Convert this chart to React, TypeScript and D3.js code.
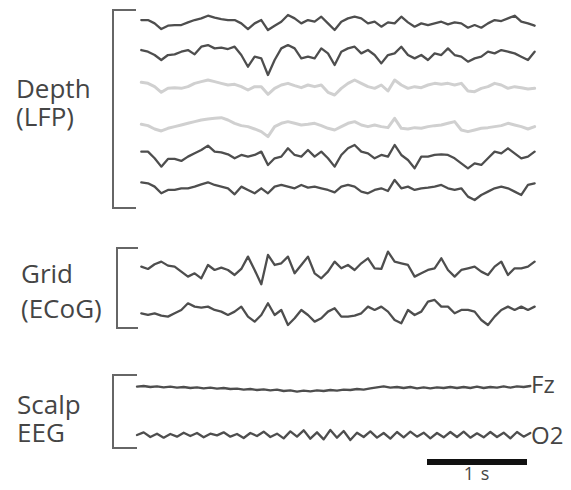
import React from "react";
import * as d3 from "d3";

// sampling: 15 samples per second, amplitudes in µV-like units
const SAMPLE_RATE = 15;

const depth1 = [5,5,-5,-22,-12,-10,-10,-2,5,10,18,12,8,5,5,-5,-22,-5,5,-25,-12,0,20,10,-5,5,0,15,-5,-25,
  0,10,15,10,-5,0,-15,-2,-5,15,-2,-15,-5,-10,-5,0,-8,-2,-5,-18,-10,-18,-5,5,2,10,18,0,-5,-12];
const depth2 = [5,0,-10,-25,-10,-8,0,5,-8,15,20,10,12,8,15,-10,-45,-15,-20,-70,-25,10,20,10,-20,-15,-20,10,-5,-40,
  0,10,15,-5,5,-10,-35,-10,-5,15,-10,-20,-10,-25,-5,-10,10,-10,-15,-30,-20,-15,0,-5,5,0,-5,-15,-25,0];
const depth3 = [8,5,-5,-22,-10,-8,-10,-5,5,10,15,10,5,0,2,-5,-15,-5,-5,-28,-10,0,5,-2,-8,0,-5,0,-22,-30,
  -10,5,15,5,-5,-10,0,-18,15,0,-10,-5,-8,0,5,2,5,0,5,-18,-20,-10,-5,5,0,-10,-5,-8,-12,-10];
const depth4 = [-3,-7,-17,-23,-15,-10,-5,0,5,10,13,15,17,10,0,-7,-10,-17,-25,-40,-10,0,5,0,-5,-3,0,-7,-15,-20,
  -10,0,5,-5,-10,-5,-10,-13,15,-15,-17,-13,-15,-10,-7,-5,0,5,-20,-25,-20,-15,-13,-10,-7,0,-5,-10,-17,-10];
const depth5 = [20,20,0,-25,-2,-2,-8,5,15,25,38,20,18,12,0,10,5,10,20,-20,0,5,30,10,5,25,5,20,0,-25,
  10,30,40,20,15,0,10,5,40,10,-5,-30,5,5,10,12,10,0,-15,-30,-15,-20,0,20,15,30,15,0,5,20];
const depth6 = [18,15,5,-15,-5,-5,0,0,5,12,18,10,5,0,-18,5,-5,-15,0,-15,5,10,5,0,10,2,5,0,-5,-12,
  5,10,5,-10,-15,-5,0,-8,25,0,5,-5,0,2,5,10,0,-5,0,-25,-35,-20,-10,0,5,0,-10,-20,10,15];

const grid1 = [5,-2,12,20,8,5,-10,-25,-15,-30,10,-5,2,-5,-20,-2,35,-5,-48,40,10,15,35,-15,10,35,-15,-30,-10,20,
  0,10,-5,15,30,0,-2,50,20,15,10,-25,-15,-5,0,30,-5,-25,-5,0,5,-10,-20,5,20,-20,0,0,5,20];
const grid2 = [0,-5,0,-7,-10,0,10,30,20,17,20,10,5,-5,5,20,-10,-25,-5,30,-5,10,-35,-15,10,-5,-25,-15,5,15,
  -10,-10,-7,0,20,10,20,5,-20,-30,10,-5,5,35,40,20,20,0,10,10,5,-20,-35,-10,10,20,10,20,10,20];

const scalpFz = [7,9,6,8,5,7,4,6,3,5,2,4,1,3,0,1,-2,0,-3,-1,-4,-2,-6,-4,-8,-5,-7,-4,-6,-3,
  -5,-2,-3,0,-2,2,5,8,4,6,3,6,2,5,2,5,3,6,3,6,3,7,3,6,4,8,4,8,6,9];
const scalpO2 = [0,8,-6,4,-8,3,-5,7,-3,6,-7,4,-1,8,-5,3,-9,6,-3,10,-6,4,-10,11,-5,14,-11,8,-13,15,
  -8,12,-15,7,-6,11,-8,6,-11,9,-7,10,-5,7,-10,6,-7,9,-6,10,-8,5,-7,9,-6,7,-10,9,-5,6];

const groupLabels = [["Depth", "(LFP)"], ["Grid", "(ECoG)"], ["Scalp", "EEG"]];
const channelLabels = ["Fz", "O2"];
const scaleBarLabel = "1 s";
const scaleBarSeconds = 1;

const W = 571, H = 490;
const DARK = "#4e4e4e";
const LIGHT = "#d0d0d0";
const TEXT = "#454545";
const FONT = "'Open Sans', 'DejaVu Sans', sans-serif";

type Trace = { values: number[]; base: number; x0: number; color: string; width: number };

const traces: Trace[] = [
  { values: depth1, base: 21.7, x0: 141.3, color: DARK, width: 2.3 },
  { values: depth2, base: 51.7, x0: 141.3, color: DARK, width: 2.3 },
  { values: depth3, base: 85, x0: 141.3, color: LIGHT, width: 3 },
  { values: depth4, base: 123.3, x0: 141.3, color: LIGHT, width: 3 },
  { values: depth5, base: 158.3, x0: 141.3, color: DARK, width: 2.3 },
  { values: depth6, base: 188.3, x0: 141.3, color: DARK, width: 2.3 },
  { values: grid1, base: 268.3, x0: 141.3, color: DARK, width: 2.3 },
  { values: grid2, base: 313.3, x0: 141.3, color: DARK, width: 2.3 },
  { values: scalpFz, base: 389, x0: 137, color: DARK, width: 2.3 },
  { values: scalpO2, base: 435, x0: 137, color: DARK, width: 2.3 },
];

const pxPerSecond = 100;
const ampScale = d3.scaleLinear().domain([-100, 100]).range([100 / 3, -100 / 3]);

function tracePath(t: Trace) {
  const dur = (t.values.length - 1) / SAMPLE_RATE;
  const x = d3.scaleLinear().domain([0, dur]).range([t.x0, t.x0 + dur * pxPerSecond]);
  const line = d3
    .line<number>()
    .x((_, i) => x(i / SAMPLE_RATE))
    .y((v) => t.base + ampScale(v))
    .curve(d3.curveLinear);
  return line(t.values) || "";
}

const brackets = [
  { x: 113, y0: 10, y1: 208, x1: 136 },
  { x: 117, y0: 248, y1: 328, x1: 138 },
  { x: 113, y0: 375, y1: 448, x1: 137 },
];

const labelPos = [
  { x: 16, y: [98, 126] },
  { x: 21, y: [283, 318] },
  { x: 17, y: [414, 442] },
];

export default function App() {
  const barScale = d3.scaleLinear().domain([0, scaleBarSeconds]).range([427, 427 + pxPerSecond]);
  return (
    <svg width={W} height={H} style={{ position: "absolute", left: 0, top: 0, background: "#fff" }}>
      <rect width={W} height={H} fill="#fff" />
      {brackets.map((b, i) => (
        <path
          key={i}
          d={`M${b.x1},${b.y0}H${b.x}V${b.y1}H${b.x1}`}
          fill="none"
          stroke="#666"
          strokeWidth={2}
        />
      ))}
      {traces.map((t, i) => (
        <path
          key={i}
          d={tracePath(t)}
          fill="none"
          stroke={t.color}
          strokeWidth={t.width}
          strokeLinejoin="round"
          strokeLinecap="round"
        />
      ))}
      {groupLabels.map((lines, i) =>
        lines.map((s, j) => (
          <text
            key={`${i}-${j}`}
            x={labelPos[i].x}
            y={labelPos[i].y[j]}
            fontFamily={FONT}
            fontSize={26}
            fill={TEXT}
          >
            {s}
          </text>
        ))
      )}
      {channelLabels.map((s, i) => (
        <text key={s} x={531} y={[393, 444][i]} fontFamily={FONT} fontSize={24} fill={TEXT}>
          {s}
        </text>
      ))}
      <rect x={barScale(0)} y={459} width={barScale(scaleBarSeconds) - barScale(0)} height={6} fill="#111" />
      <text x={477} y={480} textAnchor="middle" fontFamily={FONT} fontSize={18} fill={TEXT} letterSpacing={1}>
        {scaleBarLabel}
      </text>
    </svg>
  );
}
